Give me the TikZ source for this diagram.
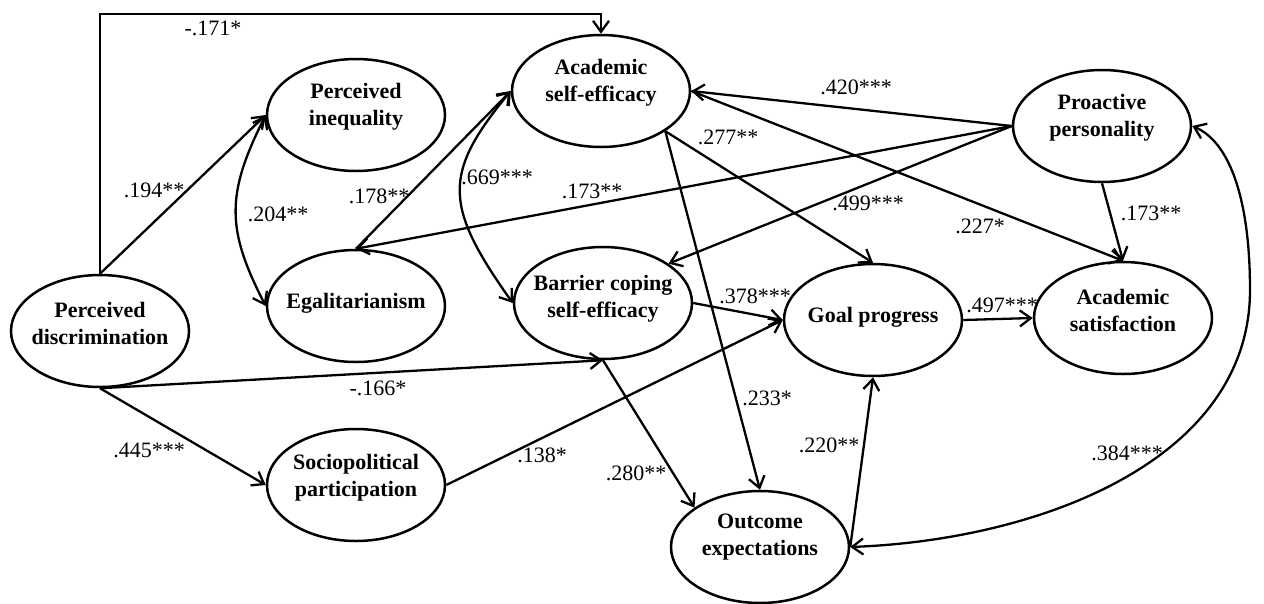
\documentclass[tikz,border=0pt]{standalone}
\usepackage{fontspec}
\setmainfont{Liberation Serif}
\usetikzlibrary{arrows.meta,shapes.geometric}
\begin{document}
\begin{tikzpicture}[x=1pt,y=-1pt,
  latent/.style={draw, ellipse, line width=2.5pt, minimum width=178pt, minimum height=112pt, inner sep=0pt},
  caption/.style={font=\fontsize{22}{27}\selectfont\bfseries, align=center, inner sep=0pt},
  coef/.style={font=\fontsize{22}{26}\selectfont, inner sep=0pt},
  barb/.tip={Straight Barb[length=11pt,width=16pt]},
  path/.style={line width=2.3pt, -barb},
  cov/.style={line width=2.3pt, barb-barb},
]
\fill[white] (0,0) rectangle (1264,603);
\useasboundingbox (0,0) rectangle (1264,603);

% latent variables
\node[latent] (pd)  at (100,331)  {};
\node[latent] (pi)  at (356,115)  {};
\node[latent] (eg)  at (356,306)  {};
\node[latent] (sp)  at (356,485)  {};
\node[latent] (ase) at (601,91)   {};
\node[latent] (bc)  at (603,303)  {};
\node[latent] (gp)  at (873,320)  {};
\node[latent] (as)  at (1123,318) {};
\node[latent] (pp)  at (1102,126) {};
\node[latent] (oe)  at (760,547)  {};

% variable names
\node[caption] (pdt)  at (100,323)  {Perceived\\discrimination};
\node[caption] (pit)  at (356,107)  {Perceived\\inequality};
\node[caption] (egt)  at (356,303)  {Egalitarianism};
\node[caption] (spt)  at (356,478)  {Sociopolitical\\participation};
\node[caption] (aset) at (601,83)   {Academic\\self-efficacy};
\node[caption] (bct)  at (603,299)  {Barrier coping\\self-efficacy};
\node[caption] (gpt)  at (873,317)  {Goal progress};
\node[caption] (ast)  at (1123,310) {Academic\\satisfaction};
\node[caption] (ppt)  at (1102,118) {Proactive\\personality};
\node[caption] (oet)  at (760,537)  {Outcome\\expectations};

% structural paths
\coordinate (topline) at (0,14);
\draw[path, line join=miter] (pd.north) -- (pd.north |- topline) -- (ase.north |- topline) -- (ase.north);
\draw[path] (pd.north) -- (pi.west);
\draw[path] (pd.south) -- (bc.south);
\draw[path] (pd.south) -- (sp.west);
\draw[path] (eg.north) -- (ase.west);
\draw[path] (pp.west) -- (eg.north);
\draw[path] (pp.west) -- (ase.east);
\draw[path] (pp.west) -- (bc.31.6);
\draw[path] (pp.south) -- (as.north);
\draw[path] (ase.east) -- (as.north);
\draw[path] (ase.-32.6) -- (gp.north);
\draw[path] (ase.-32.6) -- (oe.north);
\draw[path] (bc.east) -- (gp.west);
\draw[path] (sp.east) -- (gp.west);
\draw[path] (bc.south) -- (oe.149.3);
\draw[path] (oe.east) -- (gp.south);
\draw[path] (gp.east) -- (as.west);

% covariances
\draw[cov] (pi.west) .. controls (226,194) and (226,229) .. (eg.west);
\draw[cov] (ase.west) .. controls (443,173) and (443,205) .. (bc.west);
\draw[cov] (pp.east) .. controls (1230,142) and (1250,200) .. (1250,290)
  .. controls (1250,460) and (1040,540) .. (oe.east);

% coefficients
\node[coef] (c171) at (213,28)   {-.171*};
\node[coef] (c194) at (154,190)  {.194**};
\node[coef] (c204) at (278,214)  {.204**};
\node[coef] (c178) at (379,196)  {.178**};
\node[coef] (c669) at (497,177)  {.669***};
\node[coef] (c173a) at (592,191) {.173**};
\node[coef] (c420) at (856,87)   {.420***};
\node[coef] (c277) at (728,137)  {.277**};
\node[coef] (c499) at (868,203)  {.499***};
\node[coef] (c227) at (980,226)  {.227*};
\node[coef] (c173b) at (1151,213) {.173**};
\node[coef] (c378) at (755,296)  {.378***};
\node[coef] (c497) at (1002,305) {.497***};
\node[coef] (c166) at (378,388)  {-.166*};
\node[coef] (c445) at (149,450)  {.445***};
\node[coef] (c138) at (542,455)  {.138*};
\node[coef] (c280) at (636,473)  {.280**};
\node[coef] (c233) at (767,398)  {.233*};
\node[coef] (c220) at (829,445)  {.220**};
\node[coef] (c384) at (1127,453) {.384***};
\end{tikzpicture}
\end{document}
